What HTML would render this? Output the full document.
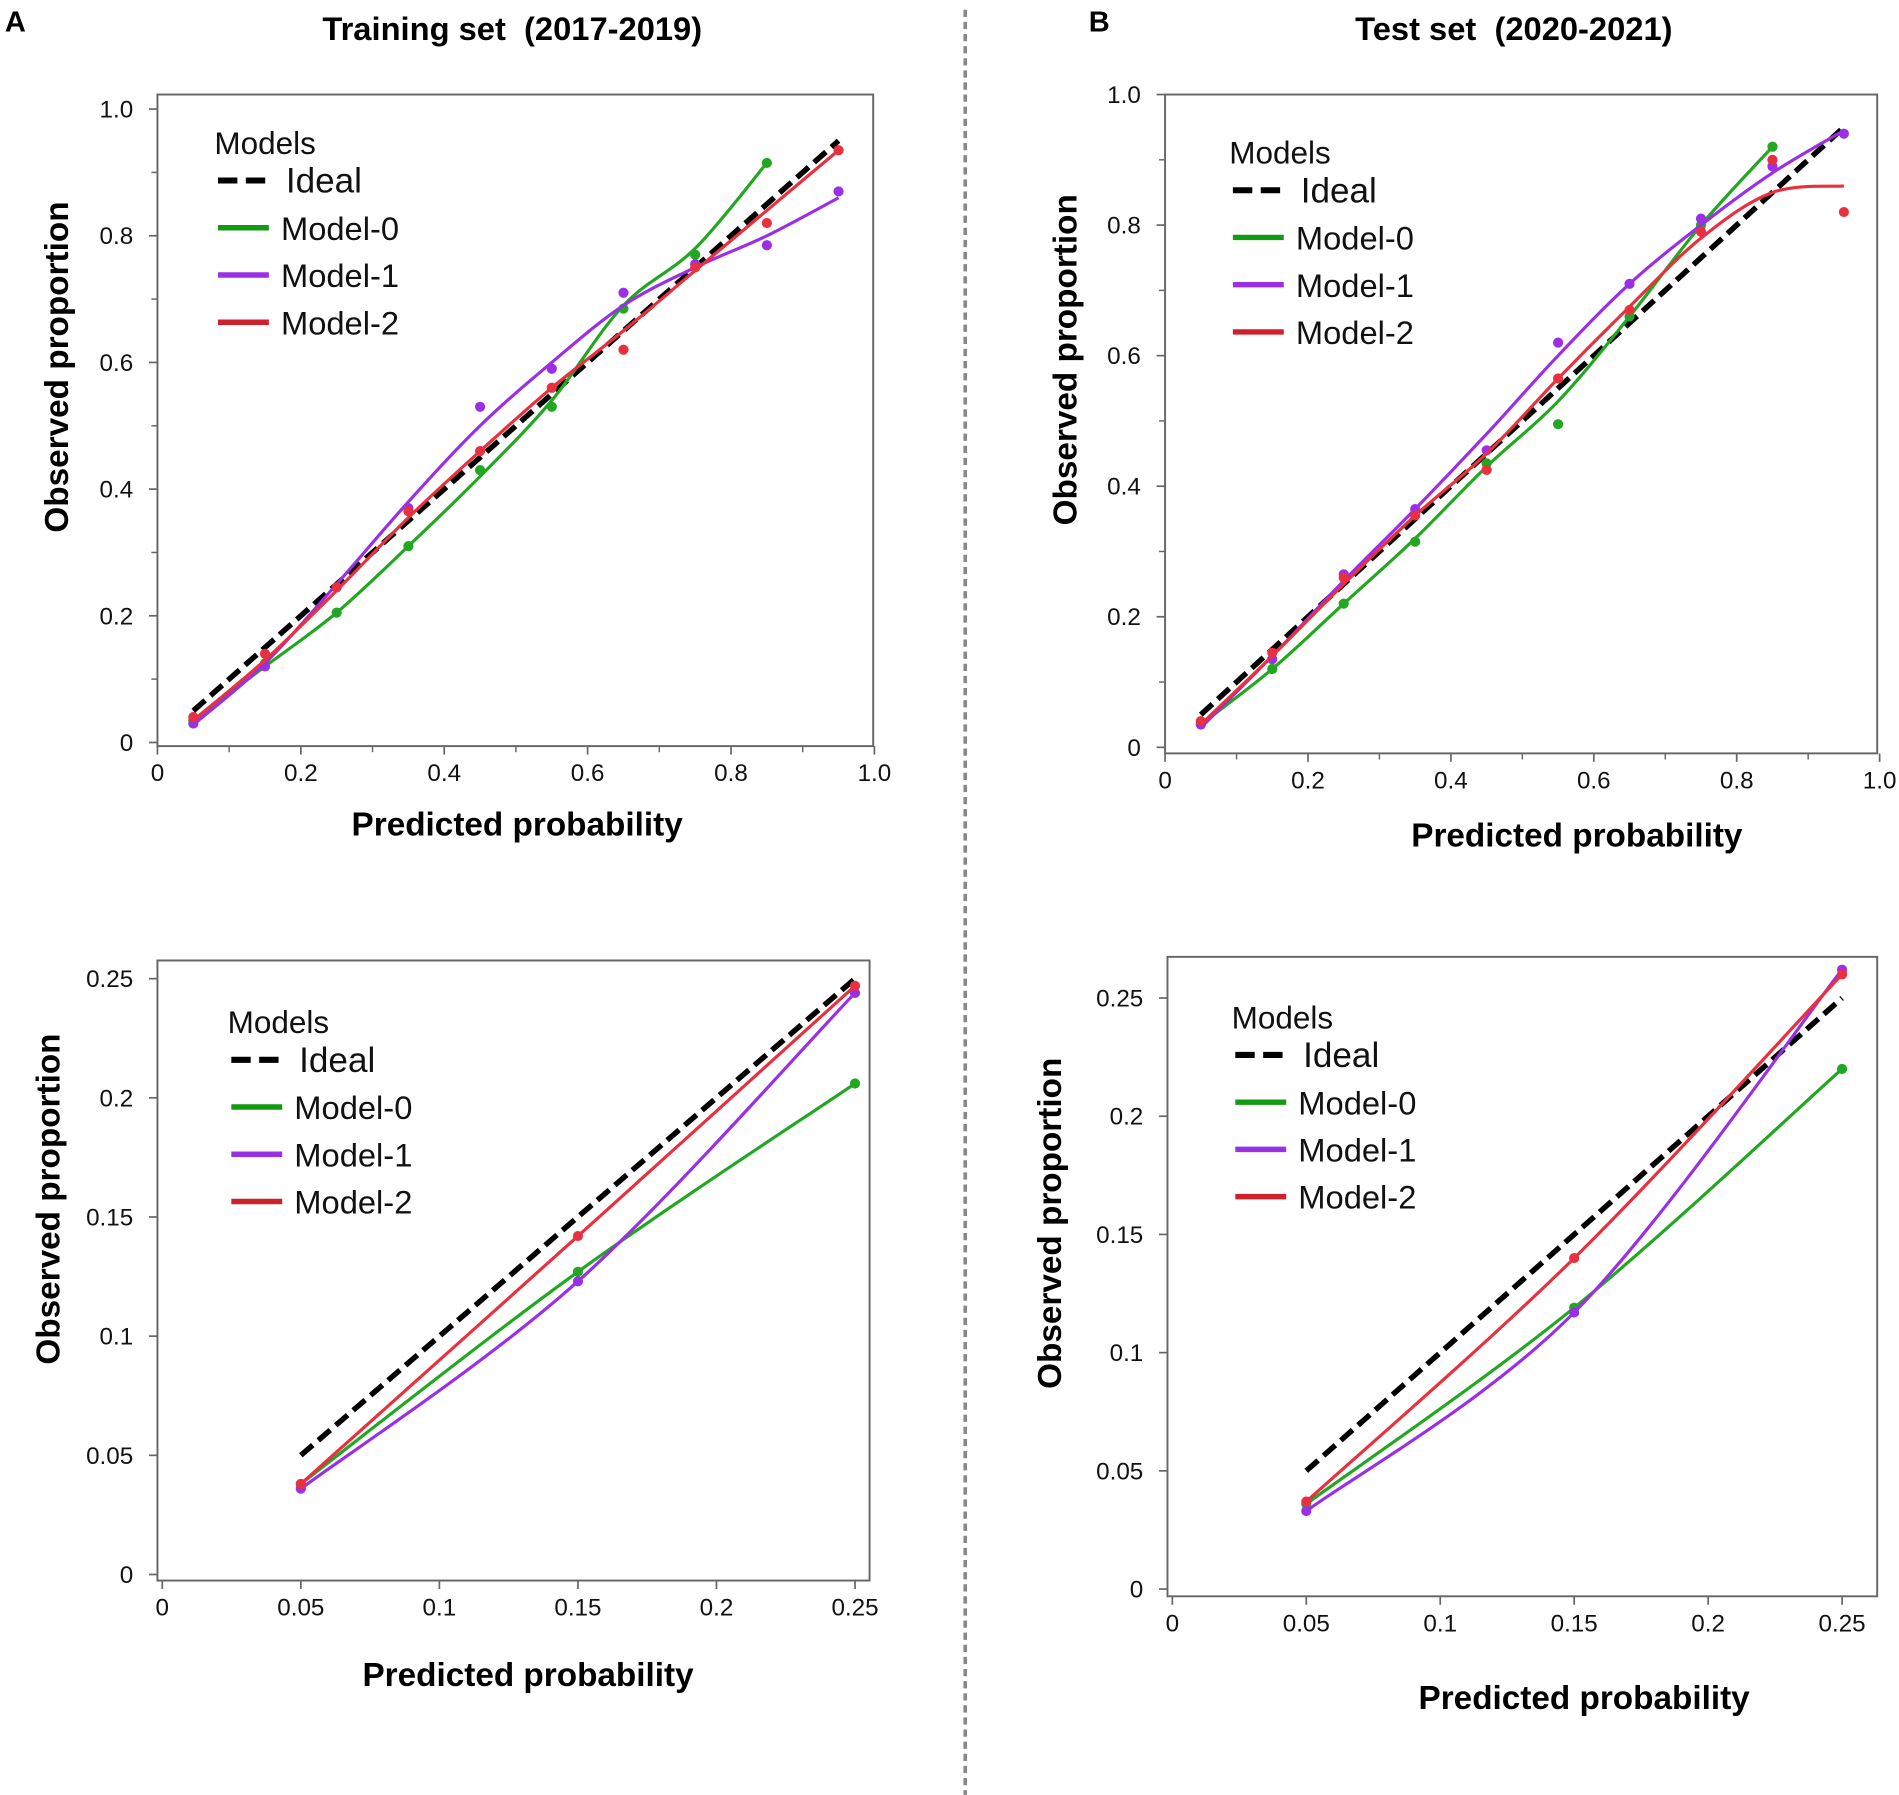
<!DOCTYPE html>
<html><head><meta charset="utf-8">
<style>
html,body{margin:0;padding:0;background:#fff;}
svg{display:block;}
text{font-family:"Liberation Sans",Arial,sans-serif;white-space:pre;}
</style></head>
<body>
<svg id="fig" width="1899" height="1795" viewBox="0 0 1568 1482" xmlns="http://www.w3.org/2000/svg" xml:space="preserve">
<text x="4" y="26" font-size="24" font-weight="bold">A</text>
<text x="899" y="26" font-size="24" font-weight="bold">B</text>
<text x="423" y="33" font-size="27" font-weight="bold" text-anchor="middle">Training set  (2017-2019)</text>
<text x="1250" y="33" font-size="27" font-weight="bold" text-anchor="middle">Test set  (2020-2021)</text>
<line x1="797" y1="8" x2="797" y2="1482" stroke="#888" stroke-width="3" stroke-dasharray="6,4"/>
</svg>
<script>
// ---- data ----
const binsTop = [0.05,0.15,0.25,0.35,0.45,0.55,0.65,0.75,0.85,0.95];
const binsBottom = [0.05,0.15,0.25];
const topTicks = [0,0.2,0.4,0.6,0.8,1.0];
const topTickLabels = ["0","0.2","0.4","0.6","0.8","1.0"];
const bottomTicks = [0,0.05,0.1,0.15,0.2,0.25];
const bottomTickLabels = ["0","0.05","0.1","0.15","0.2","0.25"];
// Training (A, full range)
const trainM0Obs = [0.035,0.125,0.205,0.31,0.43,0.53,0.685,0.77,0.915];
const trainM0Fit = [0.035,0.12,0.205,0.31,0.42,0.54,0.69,0.78,0.915];
const trainM1Obs = [0.03,0.12,0.245,0.37,0.53,0.59,0.71,0.755,0.785,0.87];
const trainM1Fit = [0.028,0.125,0.25,0.38,0.5,0.6,0.69,0.75,0.8,0.86];
const trainM2Obs = [0.04,0.14,0.245,0.365,0.46,0.56,0.62,0.75,0.82,0.935];
const trainM2Fit = [0.035,0.13,0.24,0.355,0.46,0.56,0.65,0.745,0.84,0.935];
// Test (B, full range)
const testM0Obs = [0.035,0.12,0.22,0.315,0.435,0.495,0.66,0.8,0.92];
const testM0Fit = [0.035,0.12,0.22,0.32,0.43,0.53,0.66,0.8,0.92];
const testM1Obs = [0.035,0.135,0.265,0.365,0.455,0.62,0.71,0.81,0.89,0.94];
const testM1Fit = [0.03,0.14,0.255,0.365,0.48,0.6,0.71,0.8,0.88,0.945];
const testM2Obs = [0.04,0.145,0.26,0.355,0.425,0.565,0.67,0.79,0.9,0.82];
const testM2Fit = [0.035,0.14,0.25,0.355,0.45,0.565,0.675,0.78,0.85,0.86];
// Low range (bottom)
const trainLowM0 = [0.038,0.127,0.206];
const trainLowM1 = [0.036,0.123,0.244];
const trainLowM2 = [0.038,0.142,0.247];
const testLowM0 = [0.036,0.119,0.22];
const testLowM1 = [0.033,0.117,0.262];
const testLowM2 = [0.037,0.14,0.26];

const NS="http://www.w3.org/2000/svg";
const svg=document.getElementById('fig');
const COL={m0:"#22a722",m1:"#9a2fe6",m2:"#e8303f"};
const LEG={m0:"#129a12",m1:"#9a2fe6",m2:"#d0202a"};
function mk(tag,attrs,parent){const e=document.createElementNS(NS,tag);for(const k in attrs)e.setAttribute(k,attrs[k]);(parent||svg).appendChild(e);return e;}
function spline(pts){
  if(pts.length<2)return "";
  let d="M"+pts[0][0]+","+pts[0][1];
  for(let i=0;i<pts.length-1;i++){
    const p0=pts[Math.max(0,i-1)],p1=pts[i],p2=pts[i+1],p3=pts[Math.min(pts.length-1,i+2)];
    const c1x=p1[0]+(p2[0]-p0[0])/6,c1y=p1[1]+(p2[1]-p0[1])/6;
    const c2x=p2[0]-(p3[0]-p1[0])/6,c2y=p2[1]-(p3[1]-p1[1])/6;
    d+=" C"+c1x+","+c1y+" "+c2x+","+c2y+" "+p2[0]+","+p2[1];
  }
  return d;
}
function panel(c){
  const g=mk('g',{});
  
  
  const X=v=>c.x0+(v-c.xmin)/(c.xmax-c.xmin)*(c.x1-c.x0);
  const Y=v=>c.y0-(v-c.ymin)/(c.ymax-c.ymin)*(c.y0-c.y1);
  const box=mk('rect',{x:c.bx0,y:c.by0,width:c.bx1-c.bx0,height:c.by1-c.by0,fill:"none",stroke:"#666","stroke-width":1.6},g);
  
  
  c.ticks.forEach((t,i)=>{
    const xt=mk('line',{x1:X(t),x2:X(t),y1:c.by1,y2:c.by1+7,stroke:"#666","stroke-width":1.4},g);
    
    
    const xl=mk('text',{x:X(t),y:c.by1+29,"font-size":20,"text-anchor":"middle",fill:"#111"},g);
    xl.textContent=c.tickLabels[i];
    
    
    const yt=mk('line',{x1:c.bx0-7,x2:c.bx0,y1:Y(t),y2:Y(t),stroke:"#666","stroke-width":1.4},g);
    
    
    const yl=mk('text',{x:c.bx0-20,y:Y(t)+7,"font-size":20,"text-anchor":"end",fill:"#111"},g);
    yl.textContent=c.tickLabels[i];
    
    
  });
  c.minor.forEach(t=>{
    const a=mk('line',{x1:X(t),x2:X(t),y1:c.by1,y2:c.by1+5,stroke:"#666","stroke-width":1.2},g);
    
    
    const b=mk('line',{x1:c.bx0-5,x2:c.bx0,y1:Y(t),y2:Y(t),stroke:"#666","stroke-width":1.2},g);
    
    
  });
  const lo=c.bins[0],hi=c.bins[c.bins.length-1];
  const id=mk('line',{x1:X(lo),y1:Y(lo),x2:X(hi),y2:Y(hi),stroke:"#000","stroke-width":4.5,"stroke-dasharray":"13,6"},g);
  
  
  c.series.forEach(s=>{
    const pts=s.fit.map((v,i)=>[X(c.bins[i]),Y(v)]);
    const p=mk('path',{d:spline(pts),fill:"none",stroke:COL[s.k],"stroke-width":2.6},g);
    
    
    s.obs.forEach((v,i)=>{
      const d=mk('circle',{cx:X(c.bins[i]),cy:Y(v),r:4.2,fill:COL[s.k]},g);
      
      
    });
  });
  const lg=mk('g',{},g);
  
  
  const lt=mk('text',{x:c.lx-3,y:c.ly,"font-size":26,fill:"#111"},lg);
  lt.textContent="Models";
  
  
  const rows=[{k:"ideal",label:"Ideal"},{k:"m0",label:"Model-0"},{k:"m1",label:"Model-1"},{k:"m2",label:"Model-2"}];
  rows.forEach((r,i)=>{
    const yy=c.ly+22+i*39;
    const l=mk('line',{x1:c.lx,x2:c.lx+42,y1:yy,y2:yy,stroke:r.k=="ideal"?"#000":LEG[r.k],"stroke-width":r.k=="ideal"?5:4.5,"stroke-dasharray":r.k=="ideal"?"16,7":"none"},lg);
    
    
    const t=mk('text',{x:c.lx+(r.k=="ideal"?56:52),y:yy+10,"font-size":r.k=="ideal"?29:27,fill:"#111"},lg);
    t.textContent=r.label;
    
    
  });
  const xa=mk('text',{x:c.xlx,y:c.xly,"font-size":27.5,"font-weight":"bold","text-anchor":"middle",fill:"#000"},g);
  xa.textContent="Predicted probability";
  
  
  const ya=mk('text',{x:0,y:0,"font-size":27.5,"font-weight":"bold","text-anchor":"middle",fill:"#000",transform:"translate("+c.ylx+","+c.yly+") rotate(-90)"},g);
  ya.textContent="Observed proportion";
  
  
}
const majTop=[0.1,0.3,0.5,0.7,0.9];
panel({name:"training-calibration-full",bins:binsTop,xmin:0,xmax:1,ymin:0,ymax:1,x0:130,x1:722,y0:613,y1:90,bx0:130,bx1:721,by0:78,by1:616,
  ticks:topTicks,tickLabels:topTickLabels,minor:majTop,lx:180,ly:127,xlx:427,xly:690,ylx:56,yly:303,
  series:[{k:"m0",label:"Model-0",obs:trainM0Obs,fit:trainM0Fit},{k:"m1",label:"Model-1",obs:trainM1Obs,fit:trainM1Fit},{k:"m2",label:"Model-2",obs:trainM2Obs,fit:trainM2Fit}]});
panel({name:"test-calibration-full",bins:binsTop,xmin:0,xmax:1,ymin:0,ymax:1,x0:962,x1:1552,y0:617,y1:78,bx0:962,bx1:1550,by0:78,by1:622,
  ticks:topTicks,tickLabels:topTickLabels,minor:majTop,lx:1018,ly:135,xlx:1302,xly:699,ylx:889,yly:297,
  series:[{k:"m0",label:"Model-0",obs:testM0Obs,fit:testM0Fit},{k:"m1",label:"Model-1",obs:testM1Obs,fit:testM1Fit},{k:"m2",label:"Model-2",obs:testM2Obs,fit:testM2Fit}]});
panel({name:"training-calibration-low",bins:binsBottom,xmin:0,xmax:0.25,ymin:0,ymax:0.25,x0:134,x1:706,y0:1300,y1:808,bx0:130,bx1:718,by0:793,by1:1305,
  ticks:bottomTicks,tickLabels:bottomTickLabels,minor:[],lx:191,ly:853,xlx:436,xly:1392,ylx:49,yly:990,
  series:[{k:"m0",label:"Model-0",obs:trainLowM0,fit:trainLowM0},{k:"m1",label:"Model-1",obs:trainLowM1,fit:trainLowM1},{k:"m2",label:"Model-2",obs:trainLowM2,fit:trainLowM2}]});
panel({name:"test-calibration-low",bins:binsBottom,xmin:0,xmax:0.25,ymin:0,ymax:0.25,x0:968,x1:1521,y0:1312,y1:824,bx0:964,bx1:1550,by0:790,by1:1318,
  ticks:bottomTicks,tickLabels:bottomTickLabels,minor:[],lx:1020,ly:849,xlx:1308,xly:1411,ylx:876,yly:1010,
  series:[{k:"m0",label:"Model-0",obs:testLowM0,fit:testLowM0},{k:"m1",label:"Model-1",obs:testLowM1,fit:testLowM1},{k:"m2",label:"Model-2",obs:testLowM2,fit:testLowM2}]});
</script>
</body></html>
